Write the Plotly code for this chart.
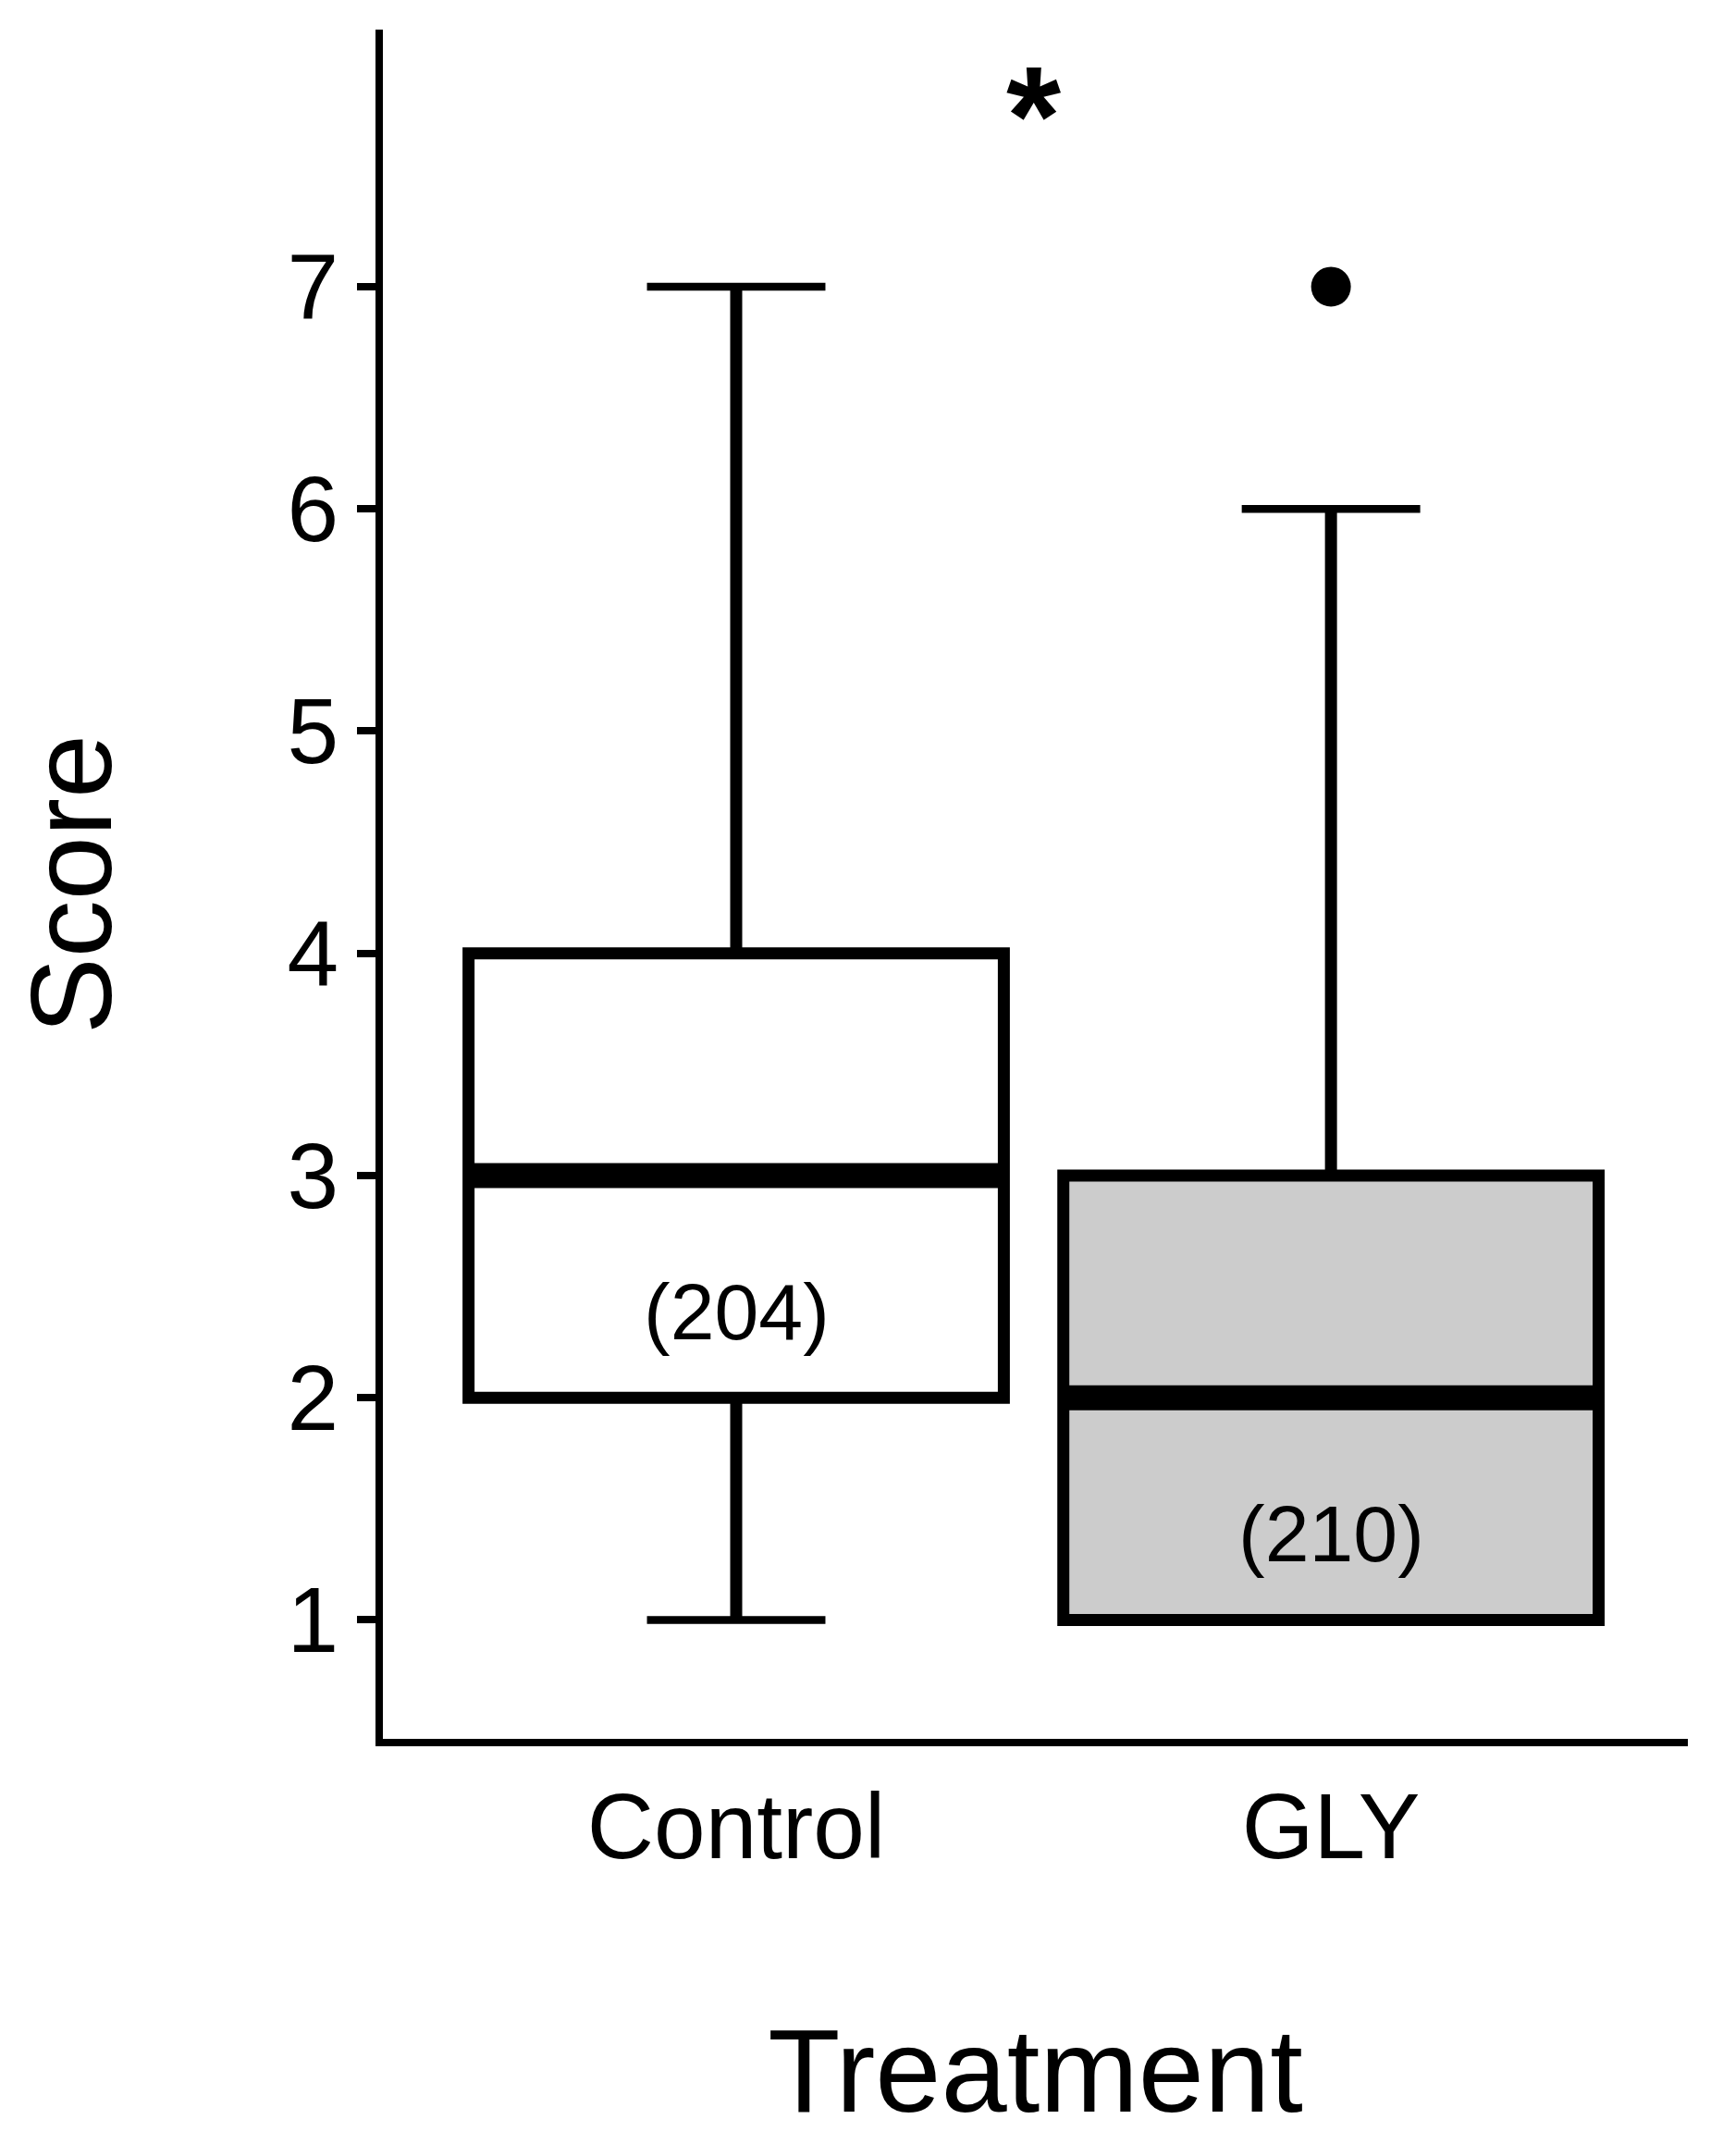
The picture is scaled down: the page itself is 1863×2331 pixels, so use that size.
import plotly.graph_objects as go

# data
categories = ["Control", "GLY"]
q1 = [2, 1]
medians = [3, 2]
q3 = [4, 3]
lower_whisker = [1, 1]
upper_whisker = [7, 6]
n_obs = [204, 210]
outlier_group = [1]
outlier_values = [7]
fills = ["#FFFFFF", "#CCCCCC"]
y_ticks = [1, 2, 3, 4, 5, 6, 7]

FONT = "Liberation Sans, Arial, sans-serif"
BOX_W = 0.9
CAP_W = 0.3

fig = go.Figure()

pos = list(range(len(categories)))

# boxes
for i in pos:
    fig.add_trace(go.Box(
        x=[i], q1=[q1[i]], median=[medians[i]], q3=[q3[i]],
        lowerfence=[lower_whisker[i]], upperfence=[upper_whisker[i]],
        width=BOX_W, fillcolor=fills[i],
        line=dict(color="black", width=13),
        boxpoints=False, whiskerwidth=0, showlegend=False, hoverinfo="skip",
    ))

# whisker caps
cx, cy = [], []
for i in pos:
    for v in (lower_whisker[i], upper_whisker[i]):
        if v in (q1[i], q3[i]):
            continue
        cx += [i - CAP_W / 2, i + CAP_W / 2, None]
        cy += [v, v, None]
fig.add_trace(go.Scatter(x=cx, y=cy, mode="lines",
                         line=dict(color="black", width=8.5),
                         showlegend=False, hoverinfo="skip"))

# thick median lines
mx, my = [], []
for i in pos:
    mx += [i - BOX_W / 2, i + BOX_W / 2, None]
    my += [medians[i], medians[i], None]
fig.add_trace(go.Scatter(x=mx, y=my, mode="lines",
                         line=dict(color="black", width=27),
                         showlegend=False, hoverinfo="skip"))

# outliers
fig.add_trace(go.Scatter(x=outlier_group, y=outlier_values, mode="markers",
                         marker=dict(color="black", size=43, symbol="circle"),
                         showlegend=False, hoverinfo="skip"))

# sample sizes
for i in pos:
    fig.add_annotation(x=i, y=medians[i] - 0.61, text=f"({n_obs[i]})",
                       showarrow=False, font=dict(family=FONT, size=86, color="black"),
                       xanchor="center", yanchor="middle")

# significance star
fig.add_annotation(x=0.5, y=7.77, text="<b>*</b>", showarrow=False,
                   font=dict(family=FONT, size=152, color="black"),
                   xanchor="center", yanchor="middle")

# page body has an 8px default margin, so the figure is 8px smaller
fig.update_layout(
    width=1855, height=2323,
    margin=dict(l=406, r=38, t=24, b=451),
    paper_bgcolor="white", plot_bgcolor="white",
    font=dict(family=FONT, color="black"),
    xaxis=dict(
        range=[-0.594, 1.6], tickmode="array", tickvals=pos, ticktext=categories,
        showgrid=False, zeroline=False, showline=True, linecolor="black", linewidth=8,
        ticks="", ticklabelstandoff=1,
        tickfont=dict(family=FONT, size=100, color="black"),
        title=dict(text="Treatment", font=dict(family=FONT, size=128, color="black"), standoff=167),
    ),
    yaxis=dict(
        range=[0.465, 8.157], tickmode="array", tickvals=y_ticks,
        showgrid=False, zeroline=False, showline=True, linecolor="black", linewidth=8,
        ticks="outside", ticklen=20, tickwidth=8, tickcolor="black",
        tickfont=dict(family=FONT, size=100, color="black"),
        title=dict(text="Score", font=dict(family=FONT, size=124, color="black"), standoff=153),
    ),
)

fig.write_html("out.html")
